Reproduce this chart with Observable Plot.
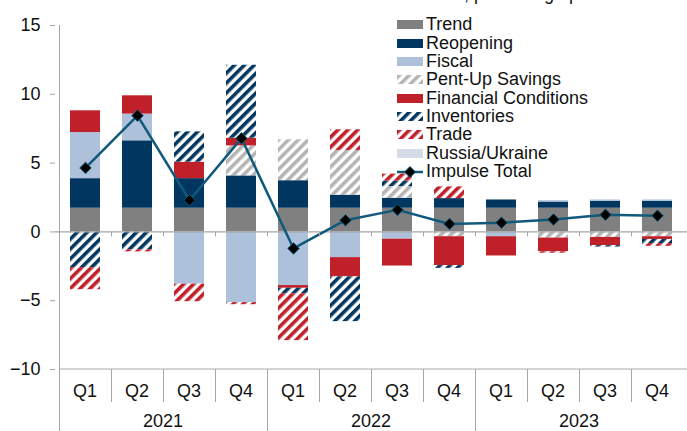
<!DOCTYPE html>
<html><head><meta charset="utf-8">
<script src="https://cdn.jsdelivr.net/npm/d3@7"></script>
<script src="https://cdn.jsdelivr.net/npm/@observablehq/plot@0.6"></script>
<style>
body{margin:0;background:#fff;font-family:"Liberation Sans",Arial,sans-serif;}
#wrap{position:relative;width:687px;height:431px;overflow:hidden;}
#sub{position:absolute;left:448px;top:-15px;font-size:18px;line-height:18px;white-space:nowrap;color:#111;}
#legend{position:absolute;left:397px;top:15.8px;font-size:18px;color:#111;}
.row{height:18.33px;display:flex;align-items:center;white-space:nowrap;}
.row svg{margin-right:3px;flex:none;}
</style></head>
<body>
<div id="wrap">
<svg width="0" height="0" style="position:absolute"><defs id="defs"></defs></svg>
<div id="chart"></div>
<div id="sub">%, percentage points</div>
<div id="legend"></div>
</div>
<script>
// ---- data ----
const quarters = ["Q1","Q2","Q3","Q4"];
const years = ["2021","2022","2023"];
const seriesNames = ["Trend","Reopening","Fiscal","Pent-Up Savings","Financial Conditions","Inventories","Trade","Russia/Ukraine"];
const trend        = [1.72,1.72,1.72,1.72,1.72,1.72,1.72,1.72,1.72,1.72,1.72,1.72];
const reopening    = [2.15,4.9,2.15,2.35,2.0,0.95,0.73,0.7,0.6,0.45,0.5,0.5];
const fiscal       = [3.35,1.94,-3.8,-5.14,-3.9,-1.87,-0.53,0,-0.35,0.1,0.1,0.1];
const pentUp       = [0,0,0,2.18,2.97,3.25,0.85,-0.35,0,-0.45,-0.4,-0.35];
const finConds     = [1.58,1.33,1.2,0.56,-0.2,-1.4,-1.95,-2.1,-1.4,-1.0,-0.6,-0.2];
const inventories  = [-2.6,-1.3,2.2,5.3,-0.4,-3.25,0.4,-0.2,0,0,-0.1,-0.3];
const trade        = [-1.6,-0.15,-1.27,-0.15,-3.4,1.5,0.5,0.85,0,-0.1,0,-0.2];
const russiaUkraine= [0,0,0,0,0,0,0,0,0,0,0,0];
const impulseTotal = [4.65,8.45,2.3,6.8,-1.2,0.85,1.6,0.58,0.67,0.9,1.24,1.18];
const yTicks = [-10,-5,0,5,10,15];

// ---- styles ----
const NAVY="#00365f", RED="#c0202a", LGREY="#b4b4b4", LINE="#11597c";
const fills = {
  "Trend":"#808080","Reopening":NAVY,"Fiscal":"#adc1da","Pent-Up Savings":"url(#h-grey)",
  "Financial Conditions":RED,"Inventories":"url(#h-navy)","Trade":"url(#h-red)","Russia/Ukraine":"#d5dce8"
};
const defs = d3.select("#defs");
function hatch(id, color){
  const p = defs.append("pattern").attr("id",id).attr("patternUnits","userSpaceOnUse")
    .attr("width",7).attr("height",7).attr("patternTransform","rotate(45)");
  p.append("rect").attr("width",7).attr("height",7).attr("fill","#fff");
  p.append("rect").attr("width",3.6).attr("height",7).attr("fill",color);
}
hatch("h-grey",LGREY); hatch("h-navy",NAVY); hatch("h-red",RED);

const periods = years.flatMap(y => quarters.map(q => `${y} ${q}`));
const seriesValues = [trend,reopening,fiscal,pentUp,finConds,inventories,trade,russiaUkraine];
const rows = seriesNames.flatMap((s,si) => periods.map((p,i) => ({period:p, series:s, value:seriesValues[si][i], fill:fills[s]})));
const totals = periods.map((p,i) => ({period:p, value:impulseTotal[i]}));

const FONT = '"Liberation Sans", Arial, sans-serif';
const FS = 18;
const chart = Plot.plot({
  width:687, height:431, marginLeft:55, marginRight:0, marginTop:25, marginBottom:62,
  style:{fontFamily:FONT, fontSize:FS+"px", color:"#111", background:"transparent", overflow:"visible"},
  x:{domain:periods, paddingInner:0.43, paddingOuter:0.215, axis:null},
  y:{domain:[-10,15], axis:null},
  color:{type:"identity"},
  marks:[
    Plot.barY(rows,{x:"period", y:"value", z:"series", fill:"fill", order:null}),
    Plot.ruleY([0],{stroke:"#a6a6a6", strokeWidth:1.2}),
    Plot.axisY({ticks:yTicks, tickSize:5, tickPadding:10, label:null, stroke:"#a6a6a6", fontSize:FS, fill:"#111"}),
    Plot.lineY(totals,{x:"period", y:"value", stroke:LINE, strokeWidth:2.5}),
    Plot.dot(totals,{x:"period", y:"value", symbol:"diamond2", r:5.2, fill:"#000", stroke:LINE, strokeWidth:1})
  ]
});
document.getElementById("chart").appendChild(chart);

// ---- custom category axis using the plot's scales ----
const xs = chart.scale("x"), ys = chart.scale("y");
const step = xs.step, bw = xs.bandwidth;
const leftOf = p => xs.apply(p) - (step - bw)/2;
const svg = d3.select(chart);
const g = svg.append("g").attr("stroke","#a6a6a6").attr("stroke-width",1);
const y0 = ys.apply(0), yBot = ys.apply(-10), yTop = ys.apply(15);
const H = 431;
g.append("line").attr("x1",leftOf(periods[0])+0.5).attr("x2",leftOf(periods[0])+0.5).attr("y1",yTop).attr("y2",H);
g.append("line").attr("x1",leftOf(periods[0])).attr("x2",687).attr("y1",yBot).attr("y2",yBot);
periods.forEach((p,i) => {
  if (i === 0) return;
  const x = Math.round(leftOf(p)) + 0.5;
  g.append("line").attr("x1",x).attr("x2",x).attr("y1",y0).attr("y2",y0+5);
  const isYear = i % 4 === 0;
  g.append("line").attr("x1",x).attr("x2",x).attr("y1",yBot).attr("y2",isYear ? H : yBot+33);
});
const t = svg.append("g").attr("font-family",FONT).attr("font-size",FS).attr("fill","#111").attr("text-anchor","middle");
periods.forEach((p,i) => {
  t.append("text").attr("x",xs.apply(p)+bw/2).attr("y",yBot+27.5).text(quarters[i%4]);
});
years.forEach((yr,k) => {
  const a = leftOf(periods[k*4]), b = leftOf(periods[k*4+3]) + step;
  t.append("text").attr("x",(a+b)/2).attr("y",yBot+58).text(yr);
});

// ---- legend ----
const legend = d3.select("#legend");
seriesNames.forEach(s => {
  const r = legend.append("div").attr("class","row");
  const sv = r.append("svg").attr("width",26).attr("height",9);
  sv.append("rect").attr("width",26).attr("height",9).attr("fill",fills[s]);
  r.append("span").text(s);
});
{
  const r = legend.append("div").attr("class","row");
  const sv = r.append("svg").attr("width",26).attr("height",14).style("overflow","visible");
  sv.append("line").attr("x1",0).attr("x2",26).attr("y1",7).attr("y2",7).attr("stroke",LINE).attr("stroke-width",2.5);
  sv.append("path").attr("d","M13,1.5L18.5,7L13,12.5L7.5,7Z").attr("fill","#000").attr("stroke",LINE).attr("stroke-width",1);
  r.append("span").text("Impulse Total");
}
</script>
</body></html>
